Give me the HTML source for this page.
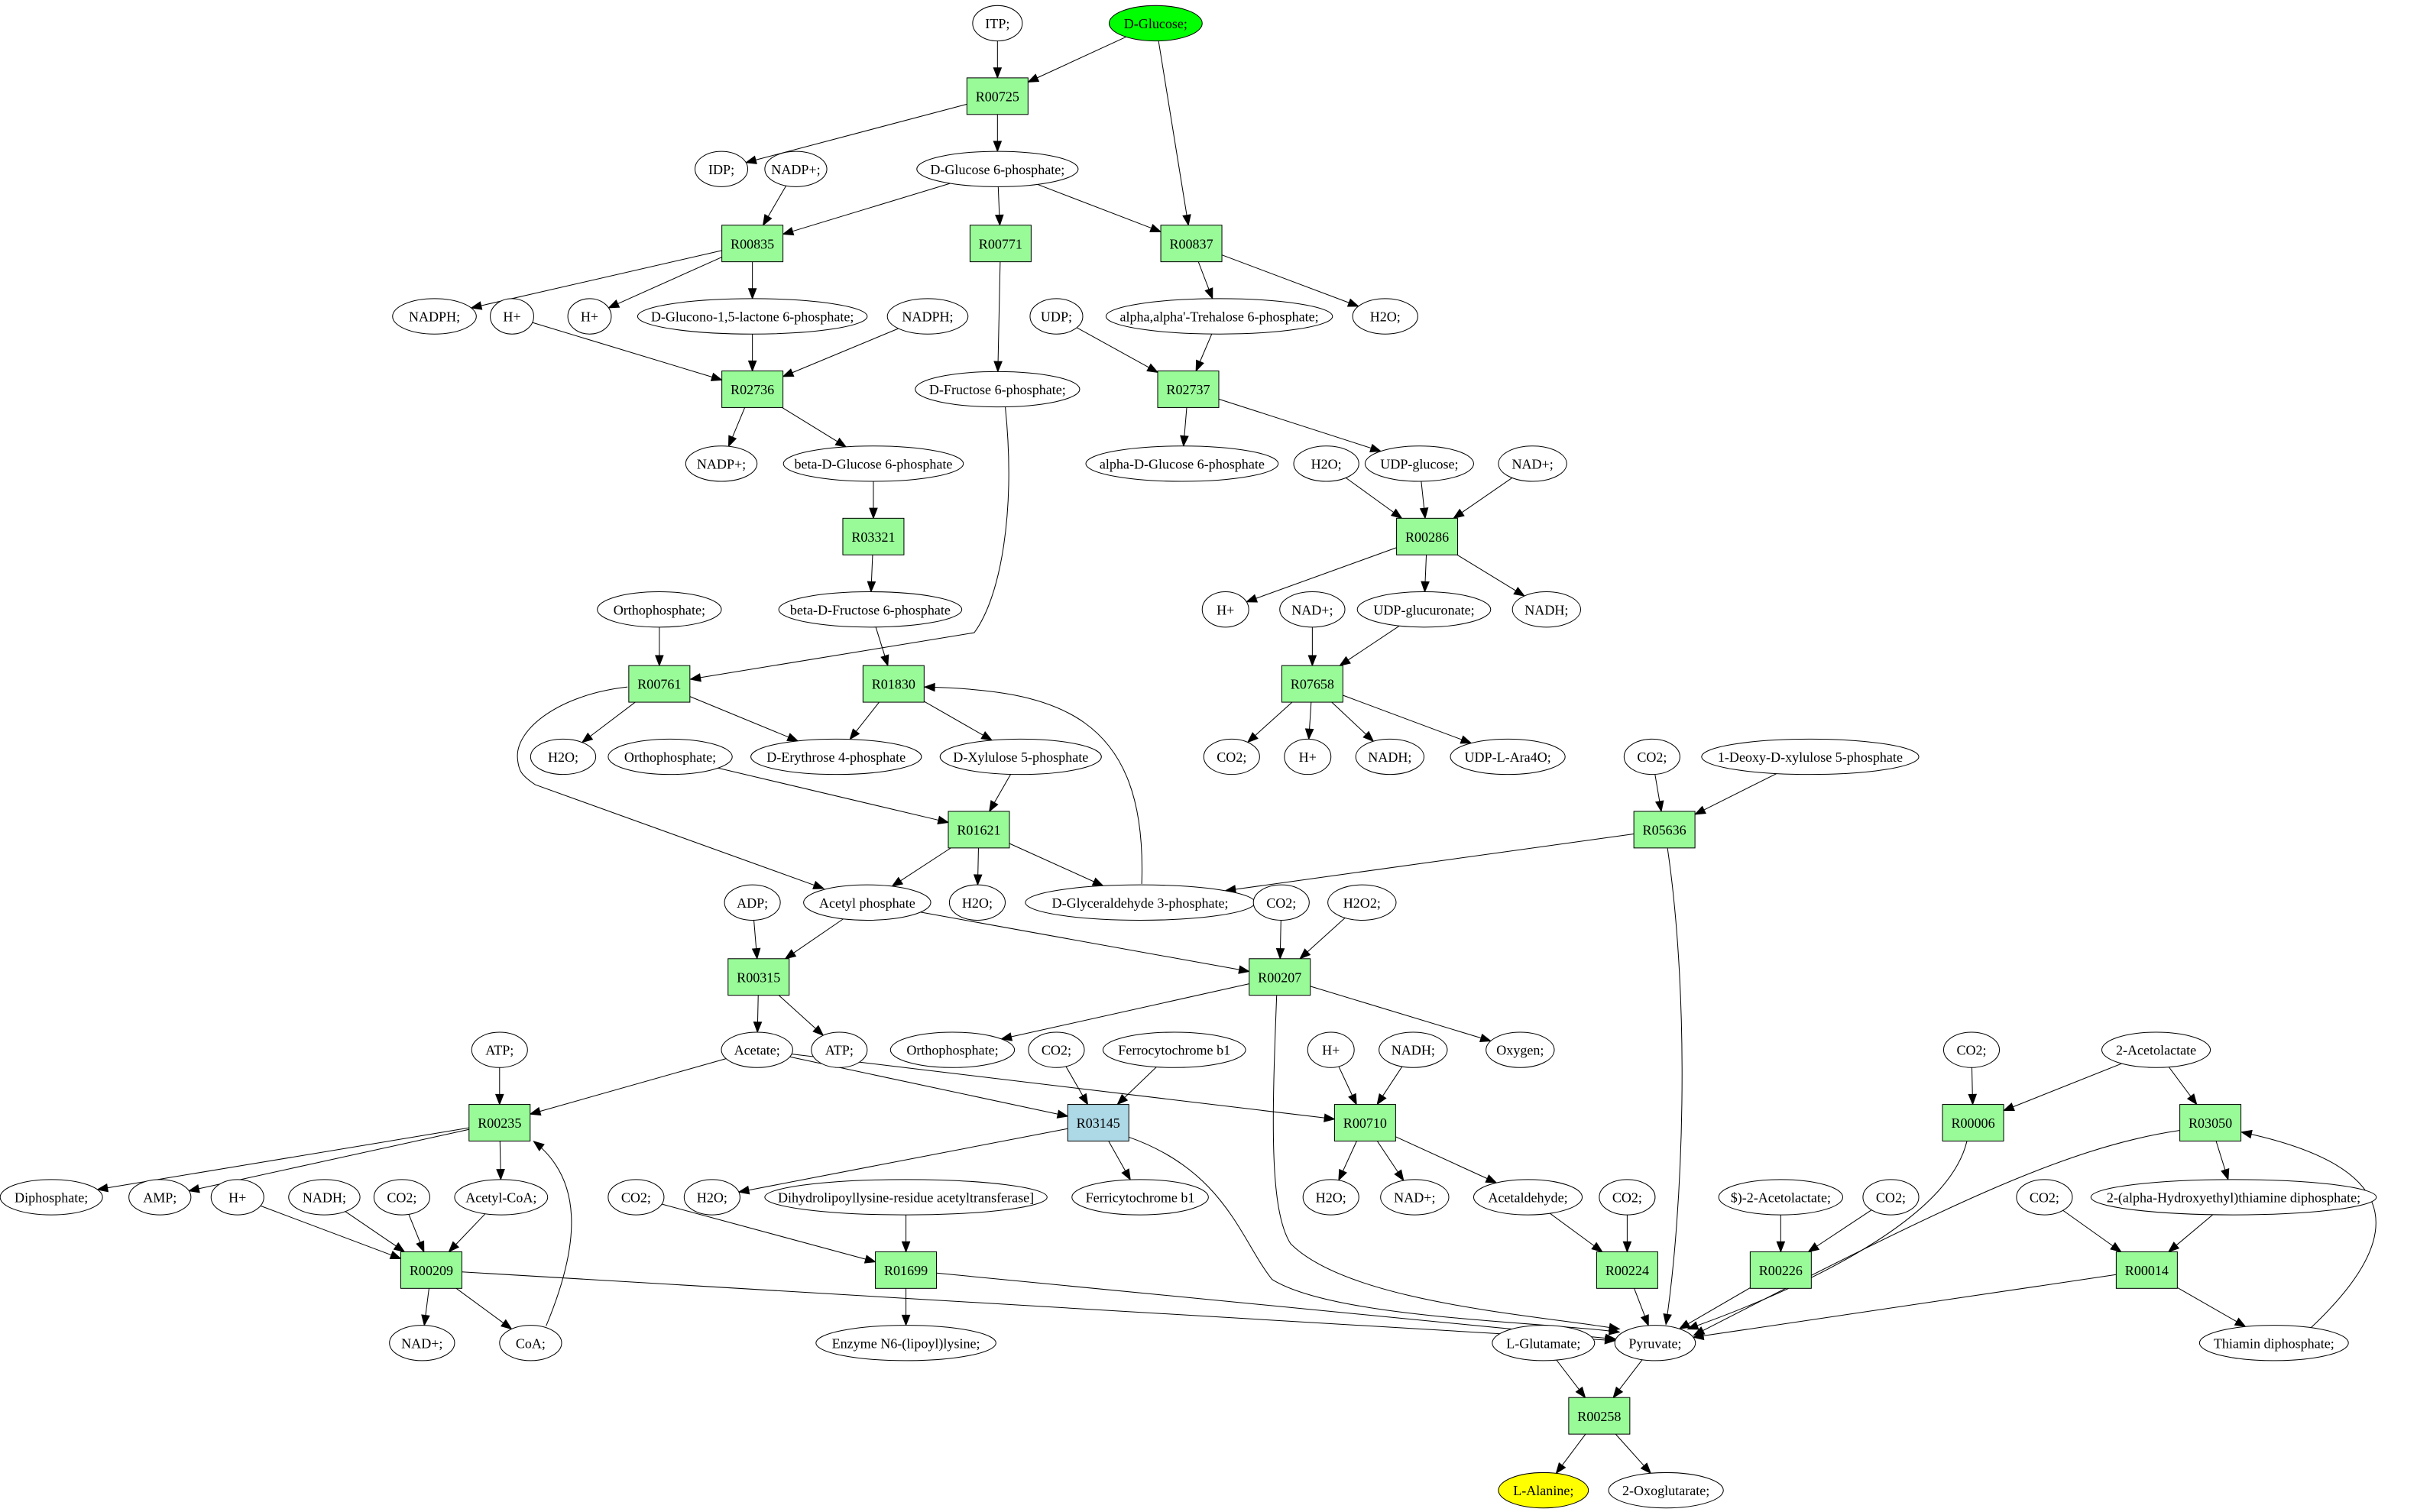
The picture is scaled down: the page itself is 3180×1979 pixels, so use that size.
<!DOCTYPE html>
<html><head><meta charset="utf-8"><style>
html,body{margin:0;padding:0;background:#fff;width:3180px;height:1979px;overflow:hidden}
svg text{font-family:"Liberation Serif",serif;font-size:8.9px;text-anchor:middle;dominant-baseline:central}
</style></head><body>
<svg id="g" xmlns="http://www.w3.org/2000/svg" width="3180" height="1979" viewBox="0 0 1566.5 975"></svg>
<script>
var N={};var order=[];
function E(id,x,y,rx,label,fill){N[id]={t:'e',x:x,y:y,rx:rx,ry:11.4,l:label||id,f:fill||'#fff'};order.push(id);}
function B(id,x,y,fill){N[id]={t:'b',x:x,y:y,hw:19.7,hh:11.8,l:id,f:fill||'#98fb98'};order.push(id);}
E('ITP',643,15,16,'ITP;');E('Glc',745,15,30,'D-Glucose;','#00ff00');
B('R00725',643,62);
E('IDP',465,109,17,'IDP;');E('NADPp1',513,109,20,'NADP+;');E('G6P',643,109,52,'D-Glucose 6-phosphate;');
B('R00835',485,157);B('R00771',645,157);B('R00837',768,157);
E('NADPH1',280,204,27,'NADPH;');E('Hp1',330,204,14,'H+');E('Hp2',380,204,14,'H+');
E('Glucono',485,204,74,'D-Glucono-1,5-lactone 6-phosphate;');E('NADPH2',598,204,26,'NADPH;');
E('UDP',681,204,17,'UDP;');E('Treh',786,204,73,"alpha,alpha'-Trehalose 6-phosphate;");E('H2O1',893,204,21,'H2O;');
B('R02736',485,251);E('F6P',643,251,53,'D-Fructose 6-phosphate;');B('R02737',766,251);
E('NADPp2',465,299,23,'NADP+;');E('bG6P',563,299,58,'beta-D-Glucose 6-phosphate');E('aG6P',762,299,62,'alpha-D-Glucose 6-phosphate');
E('H2O2a',855,299,21,'H2O;');E('UDPG',915,299,35,'UDP-glucose;');E('NADp1',988,299,22,'NAD+;');
B('R03321',563,346);B('R00286',920,346);
E('Pi1',425,393,40,'Orthophosphate;');E('bF6P',561,393,59,'beta-D-Fructose 6-phosphate');E('Hp3',790,393,15,'H+');
E('NADp2',846,393,21,'NAD+;');E('UDPGA',918,393,43,'UDP-glucuronate;');E('NADH1',997,393,22,'NADH;');
B('R00761',425,441);B('R01830',576,441);B('R07658',846,441);
E('H2O3',363,488,21,'H2O;');E('Pi2',432,488,40,'Orthophosphate;');E('E4P',539,488,55,'D-Erythrose 4-phosphate');
E('Xu5P',658,488,52,'D-Xylulose 5-phosphate');E('CO2a',794,488,18,'CO2;');E('Hp4',843,488,15,'H+');E('NADH2',896,488,22,'NADH;');
E('Ara',972,488,37,'UDP-L-Ara4O;');E('CO2b',1065,488,18,'CO2;');E('DXP',1167,488,70,'1-Deoxy-D-xylulose 5-phosphate');
B('R01621',631,535);B('R05636',1073,535);
E('ADP',485,582,18,'ADP;');E('AcP',559,582,41,'Acetyl phosphate');E('H2O4',630,582,18,'H2O;');
E('G3P',735,582,74,'D-Glyceraldehyde 3-phosphate;');E('CO2c',826,582,18,'CO2;');E('H2O2',878,582,22,'H2O2;');
B('R00315',489,630);B('R00207',825,630);
E('ATP1',322,677,18,'ATP;');E('Ac',488,677,23,'Acetate;');E('ATP2',541,677,18,'ATP;');E('Pi3',614,677,40,'Orthophosphate;');
E('CO2d',681,677,18,'CO2;');E('Ferro',757,677,46,'Ferrocytochrome b1');E('Hp5',858,677,15,'H+');E('NADH3',911,677,22,'NADH;');
E('O2',980,677,22,'Oxygen;');E('CO2e',1271,677,18,'CO2;');E('AL',1390,677,35,'2-Acetolactate');
B('R00235',322,724);B('R03145',708,724,'#add8e6');B('R00710',880,724);B('R00006',1272,724);B('R03050',1425,724);
E('PPi',33,772,33,'Diphosphate;');E('AMP',103,772,20,'AMP;');E('Hp6',153,772,17,'H+');E('NADH4',209,772,23,'NADH;');
E('CO2f',259,772,18,'CO2;');E('AcCoA',323,772,30,'Acetyl-CoA;');E('CO2g',410,772,18,'CO2;');E('H2O5',459,772,18,'H2O;');
E('Dihy',584,772,91,'Dihydrolipoyllysine-residue acetyltransferase]');E('Ferri',735,772,44,'Ferricytochrome b1');
E('H2O6',858,772,18,'H2O;');E('NADp3',912,772,22,'NAD+;');E('Acald',985,772,35,'Acetaldehyde;');E('CO2h',1049,772,18,'CO2;');
E('SAL',1148,772,40,'$)-2-Acetolactate;');E('CO2i',1219,772,18,'CO2;');E('CO2j',1318,772,18,'CO2;');
E('HET',1440,772,92,'2-(alpha-Hydroxyethyl)thiamine diphosphate;');
B('R00209',278,819);B('R01699',584,819);B('R00224',1049,819);B('R00226',1148,819);B('R00014',1384,819);
E('NADp4',272,866,21,'NAD+;');E('CoA',342,866,20,'CoA;');E('Enz',584,866,58,'Enzyme N6-(lipoyl)lysine;');
E('Glu',995,866,33,'L-Glutamate;');E('Pyr',1067,866,26,'Pyruvate;');E('TPP',1466,866,48,'Thiamin diphosphate;');
B('R00258',1031,913);E('Ala',995,961,29,'L-Alanine;','#ffff00');E('OG',1074,961,37,'2-Oxoglutarate;');

var edges=`ITP R00725;Glc R00725;Glc R00837;R00725 IDP;R00725 G6P;G6P R00835;G6P R00771;G6P R00837;NADPp1 R00835;
R00835 NADPH1;R00835 Hp2;R00835 Glucono;R00837 Treh;R00837 H2O1;R00771 F6P;Hp1 R02736;Glucono R02736;NADPH2 R02736;
R02736 NADPp2;R02736 bG6P;UDP R02737;Treh R02737;R02737 aG6P;R02737 UDPG;bG6P R03321;R03321 bF6P;H2O2a R00286;UDPG R00286;
NADp1 R00286;R00286 Hp3;R00286 UDPGA;R00286 NADH1;NADp2 R07658;UDPGA R07658;R07658 CO2a;R07658 Hp4;R07658 NADH2;R07658 Ara;
Pi1 R00761;bF6P R01830;R00761 H2O3;R00761 E4P;R01830 E4P;R01830 Xu5P;Pi2 R01621;Xu5P R01621;R01621 AcP;R01621 H2O4;R01621 G3P;
CO2b R05636;DXP R05636;R05636 G3P;ADP R00315;AcP R00315;AcP R00207;CO2c R00207;H2O2 R00207;R00315 Ac;R00315 ATP2;R00207 Pi3;
R00207 O2;ATP1 R00235;Ac R00235;Ac R03145;Ac R00710;CO2d R03145;Ferro R03145;Hp5 R00710;NADH3 R00710;R03145 H2O5;R03145 Ferri;
R00710 H2O6;R00710 NADp3;R00710 Acald;CO2e R00006;AL R00006;AL R03050;R03050 HET;R00235 PPi;R00235 AMP;
R00235 AcCoA;Hp6 R00209;NADH4 R00209;CO2f R00209;AcCoA R00209;R00209 NADp4;R00209 CoA;R00209 Pyr;CO2g R01699;Dihy R01699;
R01699 Enz;R01699 Pyr;Acald R00224;CO2h R00224;R00224 Pyr;SAL R00226;CO2i R00226;R00226 Pyr;CO2j R00014;HET R00014;R00014 Pyr;
R00014 TPP;Glu R00258;Pyr R00258;R00258 Ala;R00258 OG`;
var curves=[
'M648,262 C655,330 645,385 628,408 L445,438',
'M736,570 C740,460 680,445 596,443',
'M404.5,443 C360,448 333,470 333.5,488 C334,497 336,500 345,506 L531,573',
'M1075,547 C1090,650 1085,780 1074,854',
'M823,642 C820,720 818,780 832,802 C870,840 990,848 1044,857',
'M727,733 C790,755 800,800 820,825 C860,850 990,852 1044,859',
'M352,855 C375,800 375,760 344,736',
'M1490,856 C1560,790 1540,750 1445,730',
'M1268,736 C1255,790 1150,835 1088,857',
'M1405,729 C1330,740 1250,780 1092,861'];
var NS='http://www.w3.org/2000/svg',svg=document.getElementById('g');
function el(t,a,txt){var e=document.createElementNS(NS,t);for(var k in a)e.setAttribute(k,a[k]);if(txt!=null)e.textContent=txt;svg.appendChild(e);return e;}
function clip(n,dx,dy){var t;if(n.t=='e'){t=1/Math.sqrt((dx/n.rx)*(dx/n.rx)+(dy/n.ry)*(dy/n.ry));}
else{t=Math.min(dx?n.hw/Math.abs(dx):1e9,dy?n.hh/Math.abs(dy):1e9);}return [n.x+dx*t,n.y+dy*t];}
function arrow(x1,y1,x2,y2){var dx=x2-x1,dy=y2-y1,L=Math.sqrt(dx*dx+dy*dy);dx/=L;dy/=L;var al=6.5,aw=2.5;
var bx=x2-dx*al,by=y2-dy*al;el('polygon',{points:x2+','+y2+' '+(bx-dy*aw)+','+(by+dx*aw)+' '+(bx+dy*aw)+','+(by-dx*aw),fill:'#000',stroke:'#000','stroke-width':0.5});return [bx,by];}
edges.split(';').forEach(function(s){s=s.trim();if(!s)return;var p=s.split(/\s+/),a=N[p[0]],b=N[p[1]];
var dx=b.x-a.x,dy=b.y-a.y;var s1=clip(a,dx,dy),s2=clip(b,-dx,-dy);var bb=arrow(s1[0],s1[1],s2[0],s2[1]);
el('line',{x1:s1[0],y1:s1[1],x2:bb[0],y2:bb[1],stroke:'#000','stroke-width':0.5});});
curves.forEach(function(d){var m=d.match(/-?[\d.]+/g).map(Number),n=m.length;el('path',{d:d,fill:'none',stroke:'#000','stroke-width':0.5});
arrow(m[n-4],m[n-3],m[n-2],m[n-1]);});
order.forEach(function(id){var n=N[id];
if(n.t=='e')el('ellipse',{cx:n.x,cy:n.y,rx:n.rx,ry:n.ry,fill:n.f,stroke:'#000','stroke-width':0.5});
else el('rect',{x:n.x-n.hw,y:n.y-n.hh,width:2*n.hw,height:2*n.hh,fill:n.f,stroke:'#000','stroke-width':0.5});
el('text',{x:n.x,y:n.y+0.3},n.l);});
</script>
</body></html>
